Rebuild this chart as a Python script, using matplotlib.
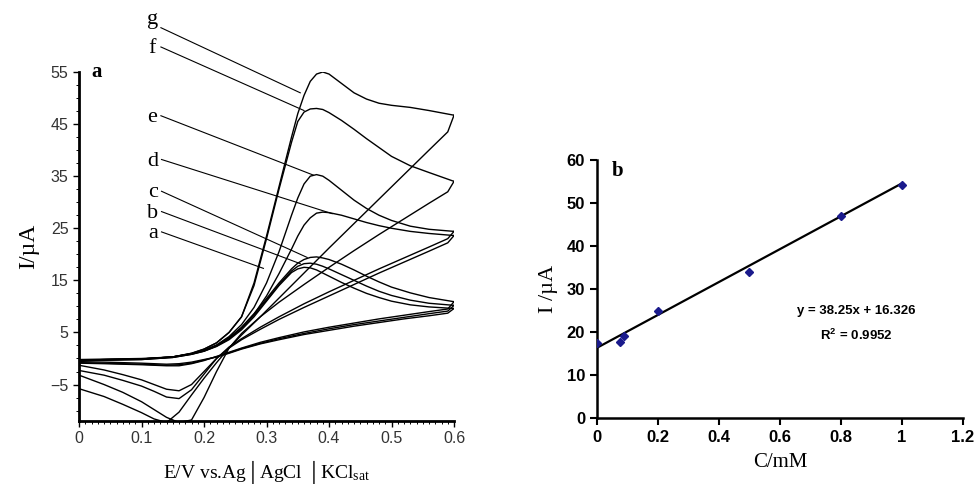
import matplotlib
matplotlib.use("Agg")
import matplotlib.pyplot as plt
from matplotlib.ticker import MultipleLocator

plt.rcParams['mathtext.fontset'] = 'stix'

# ---------------- Panel a: cyclic voltammograms ----------------
E_fwd = [0.00, 0.05, 0.10, 0.15, 0.18, 0.20, 0.22, 0.24, 0.26, 0.28, 0.30, 0.32, 0.34,
         0.35, 0.36, 0.37, 0.38, 0.39, 0.40, 0.42, 0.44, 0.46, 0.48, 0.50, 0.53, 0.56, 0.60]
E_rev = [0.60, 0.59, 0.56, 0.52, 0.48, 0.44, 0.40, 0.36, 0.32, 0.29, 0.26, 0.24, 0.22,
         0.20, 0.18, 0.16, 0.14, 0.12, 0.10, 0.07, 0.04, 0.00]

a_fwd = [-0.4, -0.3, -0.2, 0.2, 0.8, 1.4, 2.3, 3.6, 5.5, 8.0, 11.0, 14.0, 16.5,
         17.2, 17.5, 17.4, 17.0, 16.4, 15.8, 14.6, 13.5, 12.5, 11.7, 11.0, 10.3, 9.9, 9.6]
b_fwd = [-0.3, -0.2, -0.1, 0.3, 0.9, 1.5, 2.4, 3.8, 5.8, 8.3, 11.2, 14.2, 16.8,
         17.7, 18.2, 18.3, 18.1, 17.7, 17.2, 16.1, 15.0, 13.9, 12.9, 12.1, 11.2, 10.6, 10.2]
c_fwd = [-0.3, -0.2, -0.1, 0.3, 0.9, 1.5, 2.5, 4.0, 6.0, 8.6, 11.5, 14.5, 17.2,
         18.3, 19.0, 19.4, 19.5, 19.3, 19.0, 18.1, 17.0, 15.8, 14.7, 13.7, 12.6, 11.7, 10.9]
d_fwd = [-0.4, -0.3, -0.2, 0.2, 0.8, 1.4, 2.4, 3.8, 5.8, 8.5, 12.0, 16.3, 21.0,
         23.5, 25.6, 27.0, 27.9, 28.1, 28.0, 27.5, 26.8, 26.1, 25.5, 25.0, 24.4, 24.0, 23.6]
e_fwd = [-0.2, -0.1, 0.0, 0.3, 0.9, 1.6, 2.6, 4.2, 6.5, 9.8, 14.5, 20.5, 27.5,
         30.8, 33.5, 35.0, 35.3, 35.0, 34.2, 32.3, 30.4, 28.8, 27.5, 26.5, 25.4, 24.8, 24.4]
f_fwd = [-0.3, -0.2, -0.1, 0.3, 1.0, 1.8, 3.0, 5.0, 8.0, 14.0, 23.0, 32.5, 41.5,
         45.5, 47.3, 47.9, 48.0, 47.8, 47.2, 45.7, 44.0, 42.2, 40.5, 38.8, 37.0, 35.7, 34.0]
g_fwd = [-0.3, -0.2, -0.1, 0.3, 1.0, 1.8, 3.0, 5.0, 8.0, 14.5, 23.5, 33.0, 42.5,
         47.0, 50.5, 53.2, 54.6, 55.0, 54.6, 52.8, 51.0, 49.8, 49.0, 48.6, 48.2, 47.6, 46.7]

a_rev = [9.6, 8.7, 8.2, 7.6, 6.9, 6.2, 5.4, 4.6, 3.6, 2.8, 1.8, 1.0, 0.3,
         -0.2, -0.7, -1.0, -1.1, -1.0, -0.9, -0.8, -0.7, -0.6]
b_rev = [10.2, 9.1, 8.6, 7.9, 7.2, 6.5, 5.7, 4.8, 3.8, 2.9, 1.9, 1.1, 0.3,
         -0.3, -0.9, -1.2, -1.3, -1.2, -1.1, -1.0, -0.9, -0.8]
c_rev = [10.9, 9.5, 9.0, 8.3, 7.6, 6.8, 6.0, 5.1, 4.0, 3.1, 2.0, 1.2, 0.4,
         -0.4, -1.0, -1.4, -1.4, -1.3, -1.2, -1.1, -1.0, -0.9]
d_rev = [23.6, 22.2, 20.6, 18.5, 16.4, 14.2, 12.0, 9.8, 7.5, 5.6, 3.6, 2.0, 0.0,
         -2.5, -5.0, -6.2, -5.9, -5.0, -4.1, -3.1, -2.2, -1.3]
e_rev = [24.4, 23.0, 21.4, 19.3, 17.2, 15.0, 12.8, 10.5, 8.0, 6.0, 3.8, 2.2, 0.0,
         -3.0, -6.0, -7.7, -7.4, -6.3, -5.3, -4.2, -3.2, -2.3]
f_rev = [34.0, 32.0, 29.8, 26.8, 23.8, 20.7, 17.5, 14.2, 10.8, 8.0, 4.8, 2.0, -2.5,
         -7.5, -11.8, -12.3, -11.3, -9.8, -8.3, -6.5, -5.0, -3.2]
g_rev = [46.7, 43.5, 40.0, 35.3, 30.6, 25.9, 21.2, 16.4, 11.6, 8.0, 4.5, 2.0, -0.8,
         -3.8, -7.0, -10.3, -12.3, -11.6, -10.4, -8.8, -7.3, -5.8]

curve_names = ['a', 'b', 'c', 'd', 'e', 'f', 'g']
fwd = [a_fwd, b_fwd, c_fwd, d_fwd, e_fwd, f_fwd, g_fwd]
rev = [a_rev, b_rev, c_rev, d_rev, e_rev, f_rev, g_rev]

# label text position and leader end point (E, I)
label_pos = [(0.118, 24.0), (0.118, 27.9), (0.118, 31.8), (0.118, 37.9),
             (0.117, 46.3), (0.117, 59.5), (0.117, 65.0)]
leader_end = [(0.295, 17.3), (0.354, 18.2), (0.365, 19.4), (0.405, 27.8),
              (0.375, 35.2), (0.36, 47.6), (0.354, 51.0)]

# ---------------- Panel b: calibration ----------------
conc = [0.0, 0.075, 0.09, 0.2, 0.5, 0.8, 1.0]
peak_current = [17.5, 17.6, 19.0, 24.8, 34.0, 47.0, 54.2]
slope, intercept = 38.25, 16.326
fit_x = [0.0, 1.0]

fig = plt.figure(figsize=(9.77, 4.88), dpi=100)

serif = 'Liberation Serif'
sans = 'Liberation Sans'

ax1 = fig.add_axes([0.0809, 0.1373, 0.3838, 0.7152])
for name, yf, yr in zip(curve_names, fwd, rev):
    ax1.plot(E_fwd, yf, color='black', lw=1.0)
    ax1.plot(E_rev, yr, color='black', lw=1.0)

for name, (lx, ly), (ex, ey) in zip(curve_names, label_pos, leader_end):
    ax1.text(lx, ly, name, fontsize=16, family=serif, ha='center', va='center',
             clip_on=False)
    ax1.plot([lx + 0.014, ex], [ly + 0.3 if name != 'g' else ly - 1.5, ey],
             color='black', lw=0.8, clip_on=False)

ax1.set_xlim(0, 0.6)
ax1.set_ylim(-12, 55)
ax1.spines['top'].set_visible(False)
ax1.spines['right'].set_visible(False)
ax1.spines['left'].set_linewidth(2.0)
ax1.spines['bottom'].set_linewidth(2.0)
ax1.set_xticks([0, 0.1, 0.2, 0.3, 0.4, 0.5, 0.6])
ax1.set_xticklabels(['0', '0.1', '0.2', '0.3', '0.4', '0.5', '0.6'])
ax1.set_yticks([-5, 5, 15, 25, 35, 45, 55])
ax1.xaxis.set_minor_locator(MultipleLocator(0.01))
ax1.yaxis.set_minor_locator(MultipleLocator(2.5))
ax1.tick_params(which='major', direction='out', length=4, width=1.0,
                labelsize=11.5, labelcolor='#333333')
ax1.tick_params(which='minor', direction='out', length=2.5, width=0.7)
for lab in ax1.get_xticklabels() + ax1.get_yticklabels():
    lab.set_family(sans)
ax1.text(0.02, 55, 'a', fontsize=15, family=serif, fontweight='bold',
         ha='left', va='center')
ax1.set_ylabel('I/µA', fontsize=17, family=serif, labelpad=8)
ax1.set_xlabel('E/V vs.Ag\u2502AgCl \u2502KCl$_{\\mathregular{sat}}$', fontsize=14,
               family=[serif, 'DejaVu Sans'], labelpad=8)

ax2 = fig.add_axes([0.611, 0.1434, 0.3746, 0.5287])
ax2.plot(fit_x, [slope * x + intercept for x in fit_x], color='black', lw=1.6)
ax2.plot(conc, peak_current, linestyle='none', marker='D', markersize=4.5,
         color='#1a1a8c', zorder=3)
ax2.set_xlim(0, 1.2)
ax2.set_ylim(0, 60)
ax2.spines['top'].set_visible(False)
ax2.spines['right'].set_visible(False)
ax2.spines['left'].set_linewidth(1.8)
ax2.spines['bottom'].set_linewidth(1.8)
ax2.set_xticks([0, 0.2, 0.4, 0.6, 0.8, 1.0, 1.2])
ax2.set_xticklabels(['0', '0.2', '0.4', '0.6', '0.8', '1', '1.2'])
ax2.set_yticks([0, 10, 20, 30, 40, 50, 60])
ax2.tick_params(direction='out', length=5, width=1.5, labelsize=12)
for lab in ax2.get_xticklabels() + ax2.get_yticklabels():
    lab.set_family(sans)
    lab.set_fontweight('bold')
ax2.text(0.05, 57.5, 'b', fontsize=15, family=serif, fontweight='bold',
         ha='left', va='center')
ax2.text(0.85, 25.0, 'y = 38.25x + 16.326', fontsize=9.5, family=sans,
         fontweight='bold', ha='center', va='center')
ax2.text(0.85, 19.3, 'R$^{\\mathregular{2}}$ = 0.9952', fontsize=9.5, family=sans,
         fontweight='bold', ha='center', va='center')
ax2.set_ylabel('I /µA', fontsize=16, family=serif, labelpad=6)
ax2.set_xlabel('C/mM', fontsize=15, family=serif, labelpad=6)

fig.savefig('out.png', dpi=100)
